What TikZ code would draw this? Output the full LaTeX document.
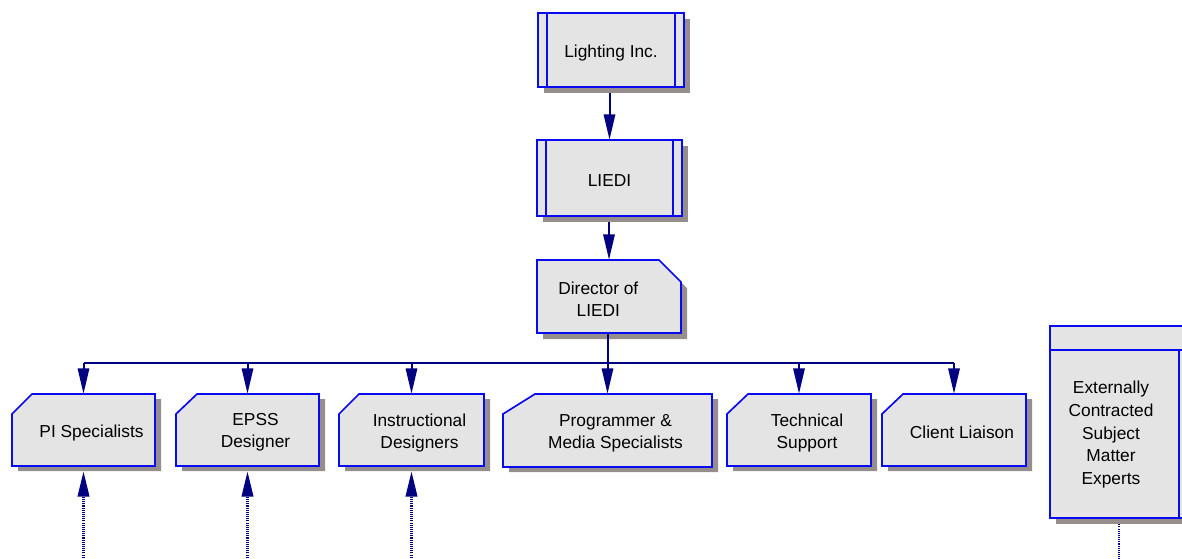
\documentclass[tikz,border=0pt]{standalone}
\usepackage{fontspec}
\setmainfont{Liberation Sans}
\usepackage{tikz}
\usetikzlibrary{arrows.meta,fit}
\definecolor{navyline}{RGB}{0,0,128}
\definecolor{boxblue}{RGB}{10,10,240}
\definecolor{boxgray}{RGB}{229,228,228}
\definecolor{shadowgray}{RGB}{150,141,141}
\tikzstyle{unit} = [draw=boxblue,line width=1.25pt,fill=boxgray]
\tikzstyle{unitedge} = [draw=boxblue,line width=1.25pt]
\tikzstyle{shade} = [fill=shadowgray]
\tikzstyle{unittext} = [font=\fontsize{13}{16.5}\selectfont,align=center,inner sep=0pt,yshift=-2pt]
\tikzstyle{link} = [navyline,line width=1.5pt]
\tikzstyle{arrow} = [link,-{Triangle[length=19pt,width=8.5pt]}]
\tikzstyle{dotarrow} = [arrow,line width=2pt,dash pattern=on 0.8pt off 0.8pt]
% name, left, top, right, bottom, text
\newcommand{\procbox}[6]{%
  \fill[shade] (#2+6,#3+6) rectangle (#4+6,#5+6);
  \filldraw[unit] (#2,#3) rectangle (#4,#5);
  \draw[unitedge] (#2+9,#3) -- (#2+9,#5) (#4-9,#3) -- (#4-9,#5);
  \node[fit={(#2,#3) (#4,#5)},inner sep=0pt,label={[unittext]center:{#6}}] (#1) {};
}
% name, left, top, right, bottom, cut, text
\newcommand{\cutbox}[7]{%
  \fill[shade,shift={(6,5)}] (#2,#3+20) -- (#2+#6,#3) -- (#4,#3) -- (#4,#5) -- (#2,#5) -- cycle;
  \filldraw[unit] (#2,#3+20) -- (#2+#6,#3) -- (#4,#3) -- (#4,#5) -- (#2,#5) -- cycle;
  \node[fit={(#2,#3) (#4,#5)},inner sep=0pt,label={[unittext,xshift=6pt]center:{#7}}] (#1) {};
}
\begin{document}
\begin{tikzpicture}[x=0.75pt,y=-0.75pt]
    \useasboundingbox (0,0) rectangle (1182,558);
    \clip (0,0) rectangle (1182,558);
    \coordinate (bottom) at (0,562);
    \coordinate (bus) at (608,363);
    % top of the chart
    \procbox{inc}{538}{13}{684}{87}{\raisebox{-3pt}{Lighting Inc.}}
    \procbox{liedi}{537}{140}{682}{216}{LIEDI}
    \fill[shade,shift={(6,6)}] (537,260) -- (659,260) -- (681,282) -- (681,333) -- (537,333) -- cycle;
    \filldraw[unit] (537,260) -- (659,260) -- (681,282) -- (681,333) -- (537,333) -- cycle;
    \node[fit={(537,260) (681,333)},inner sep=0pt,label={[unittext,xshift=-8pt]center:{Director of\\LIEDI}}] (dir) {};
    % units
    \cutbox{pi}{12}{394}{155}{466}{20}{PI Specialists}
    \cutbox{epss}{176}{394}{319}{466}{21}{EPSS\\Designer}
    \cutbox{design}{339}{394}{484}{466}{20}{Instructional\\Designers}
    \cutbox{media}{503}{394}{712}{467}{32}{Programmer \&\\Media Specialists}
    \cutbox{tech}{727}{394}{871}{466}{21}{Technical\\Support}
    \cutbox{liaison}{882}{394}{1026}{466}{21}{Client Liaison}
    % external experts
    \fill[shade] (1056,332) rectangle (1194,524);
    \filldraw[unit] (1050,326) rectangle (1188,518);
    \draw[unitedge] (1050,350) -- (1188,350) (1179,350) -- (1179,518);
    \node[fit={(1050,326) (1188,518)},inner sep=0pt,label={[unittext,xshift=-6pt,yshift=-7.5pt,font=\fontsize{13}{17}\selectfont]center:{Externally\\Contracted\\Subject\\Matter\\Experts}}] (sme) {};
    % connectors
    \draw[arrow,shorten <=4.5pt] (inc.south -| liedi.north) -- (liedi.north);
    \draw[arrow,shorten <=4.5pt] (liedi.south -| dir.north) -- (dir.north);
    \draw[link] (dir.south -| bus) -- (bus);
    \draw[link] (pi.north |- bus) -- (liaison.north |- bus);
    \foreach \u in {pi,epss,design,media,tech,liaison}
        \draw[arrow] (\u.north |- bus) -- (\u.north);
    \foreach \u in {pi,epss,design}
        \draw[dotarrow,shorten >=3.75pt] (\u.south |- bottom) -- (\u.south);
    \draw[link,line width=2pt,dash pattern=on 0.8pt off 0.8pt,shorten <=4.5pt] (sme.south) -- (sme.south |- bottom);
\end{tikzpicture}
\end{document}
